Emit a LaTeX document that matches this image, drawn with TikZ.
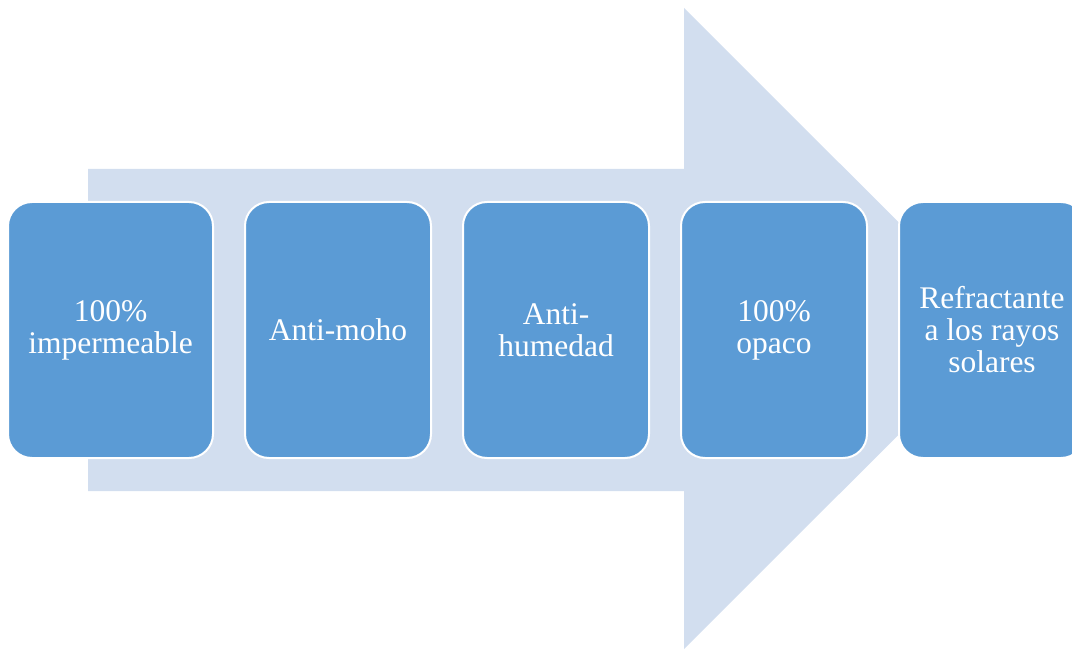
\documentclass[tikz,border=0pt]{standalone}
\usepackage{fontspec}
\setmainfont{Liberation Serif}
\definecolor{boxblue}{HTML}{5B9BD5}
\definecolor{arrowblue}{HTML}{D2DEEF}
\begin{document}
\begin{tikzpicture}[x=1pt,y=-1pt,
  featbox/.style={draw=white, line width=2pt, fill=boxblue, rounded corners=24pt,
    text=white, align=center, inner sep=0pt, minimum height=256pt,
    font=\fontsize{31.5}{32}\selectfont},
]
\useasboundingbox (0,0) rectangle (1072,650);
\fill[arrowblue] (88,169) -- (684,169) -- (684,8) -- (1005,328.5) -- (684,649) -- (684,491) -- (88,491) -- cycle;
\node[featbox, minimum width=205pt] (b1) at (110.5,330) {100\%\\impermeable};
\node[featbox, minimum width=186pt] (b2) at (338,330) {Anti-moho};
\node[featbox, minimum width=186pt] (b3) at (556,330) {Anti-\\humedad};
\node[featbox, minimum width=186pt] (b4) at (774,330) {100\%\\opaco};
\node[featbox, minimum width=186pt] (b5) at (992,330) {Refractante\\a los rayos\\solares};
\end{tikzpicture}
\end{document}
